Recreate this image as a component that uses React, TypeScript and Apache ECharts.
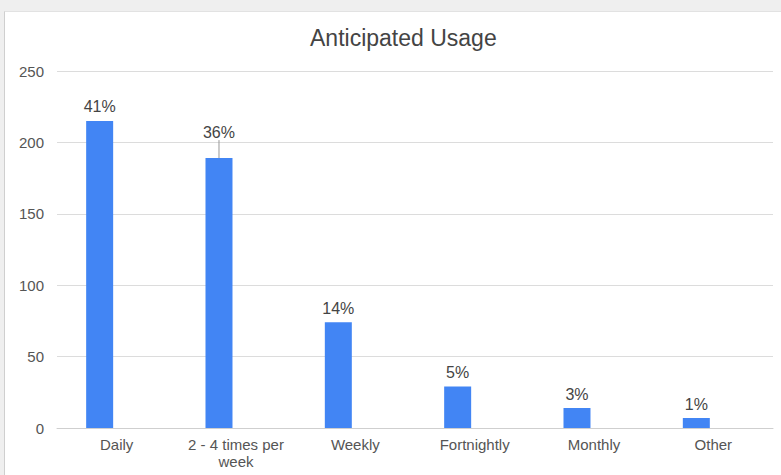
import React, { useEffect, useRef } from "react";
import * as echarts from "echarts";

const categories = ["Daily", "2 - 4 times per\nweek", "Weekly", "Fortnightly", "Monthly", "Other"];
const counts = [215, 189, 74, 29, 14, 7];
const percentLabels = ["41%", "36%", "14%", "5%", "3%", "1%"];
const emptySeries: (number | null)[] = [];
const yTicks = { min: 0, max: 250, interval: 50 };

const FONT = "'Liberation Sans', Arial, sans-serif";

export default function App() {
  const ref = useRef<HTMLDivElement>(null);
  useEffect(() => {
    if (!ref.current) return;
    const chart = echarts.init(ref.current, null, { renderer: "svg" });
    chart.setOption({
      animation: false,
      backgroundColor: "transparent",
      title: {
        text: "Anticipated Usage",
        left: 305,
        top: 21,
        textStyle: { fontFamily: FONT, fontSize: 23, fontWeight: "normal", color: "#444" },
      },
      grid: { left: 57, right: 8, top: 71, bottom: 47 },
      xAxis: {
        type: "category",
        data: categories,
        axisLine: { lineStyle: { color: "#cfcfcf", width: 1 } },
        axisTick: { show: false },
        axisLabel: {
          fontFamily: FONT,
          fontSize: 15,
          color: "#555",
          margin: 8,
          lineHeight: 17,
          interval: 0,
        },
      },
      yAxis: {
        type: "value",
        min: yTicks.min,
        max: yTicks.max,
        interval: yTicks.interval,
        axisLine: { show: false },
        axisTick: { show: false },
        splitLine: { lineStyle: { color: "#dcdcdc", width: 1 } },
        axisLabel: { fontFamily: FONT, fontSize: 15, color: "#555", margin: 13 },
      },
      series: [
        {
          type: "bar",
          barWidth: 27,
          barGap: "26%",
          itemStyle: { color: "#4285f4" },
          data: counts.map((v, i) =>
            i === 1
              ? { value: v, labelLine: { show: true, lineStyle: { color: "#999", width: 1 } } }
              : v
          ),
          label: {
            show: true,
            position: "top",
            distance: 6,
            fontFamily: FONT,
            fontSize: 16,
            color: "#444",
            formatter: (p: any) => percentLabels[p.dataIndex],
          },
          labelLayout: (p: any) => (p.dataIndex === 1 ? { dy: -12 } : {}),
        },
        {
          type: "bar",
          barWidth: 27,
          barGap: "26%",
          itemStyle: { color: "#ea4335" },
          data: emptySeries,
        },
      ],
    });
    return () => chart.dispose();
  }, []);
  return (
    <div style={{ position: "fixed", left: 0, top: 0, width: 781, height: 475, background: "#efefef", overflow: "hidden" }}>
      <div
        style={{
          position: "absolute",
          left: 4,
          top: 11,
          width: 777,
          height: 470,
          background: "#fff",
          borderLeft: "1px solid #cfcfcf",
          borderTop: "1px solid #e2e2e2",
        }}
      />
      <div ref={ref} style={{ position: "absolute", left: 0, top: 0, width: 781, height: 475 }} />
    </div>
  );
}
